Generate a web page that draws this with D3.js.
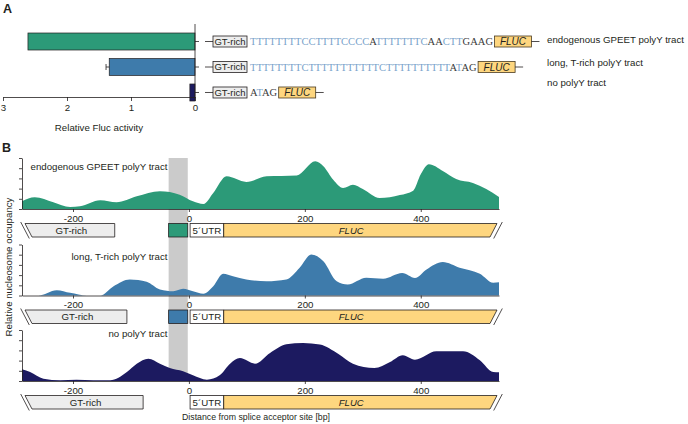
<!DOCTYPE html>
<html><head><meta charset="utf-8">
<script src="https://cdn.jsdelivr.net/npm/d3@7"></script>
<style>
body{margin:0;background:#fff;}
svg{display:block;font-family:"Liberation Sans",Arial,sans-serif;}
</style></head><body>
<svg id="c" width="688" height="424"></svg>
<script>
// ---------- data ----------
const constructs = ["endogenous GPEET polyY tract", "long, T-rich polyY tract", "no polyY tract"];
const flucActivity = [2.61, 1.34, 0.08];
const flucError = [0.0, 0.05, 0.0];
const activityTicks = [0, 1, 2, 3];
const sequences = ["TTTTTTTTCCTTTTCCCCATTTTTTTCAACTTGAAG", "TTTTTTTTCTTTTTTTTTTTCTTTTTTTTTTATAG", "ATAG"];

const bpTicks = [-200, 0, 200, 400];
const occTicks = [0, 1, 2, 3, 4, 5];
const gtRichEnd = [-128, -107, -79];
const polyYRegion = [-35, -2];
const utrRegion = [2, 60];
const bpDomain = [-288, 535];

const occGPEET = [[-288,0.75],[-266,1.15],[-234,0.66],[-205,0.2],[-188,0.26],[-153,0.85],[-125,0.66],[-90,1.25],[-50,1.74],[-16,1.4],[7,0.75],[25,0.49],[42,1.57],[65,3.2],[99,2.65],[134,3.2],[186,3.28],[218,4.67],[232,4.19],[249,2.87],[266,2.06],[283,2.38],[300,1.96],[329,1.08],[364,1.37],[387,1.8],[400,3.4],[414,4.38],[438,3.73],[461,2.94],[490,2.55],[513,1.96],[535,1.18]];
const occTrich = [[-288,0],[-260,0],[-228,0.52],[-205,0.26],[-176,0],[-153,0],[-130,0.91],[-102,1.57],[-73,1.34],[-50,0.59],[-27,0.42],[-10,0.66],[7,0.42],[25,0.17],[42,0.91],[59,2.13],[76,1.89],[99,1.57],[134,1.4],[168,1.57],[191,2.72],[211,4.02],[232,3.36],[255,1.4],[274,1.08],[306,1.74],[335,1.64],[368,2.2],[390,1.72],[410,2.55],[438,3.28],[467,2.72],[502,2.13],[525,1.25],[535,1.3]];
const occNone = [[-288,1.15],[-274,0.88],[-251,0.23],[-222,0.07],[-194,0.13],[-165,0.07],[-136,0.07],[-107,0.88],[-90,1.7],[-70,2.19],[-50,1.7],[-33,1.27],[-10,0.95],[7,0.56],[31,0.13],[53,0.56],[71,1.7],[88,2.25],[114,1.7],[140,2.75],[168,3.6],[197,3.73],[226,3.58],[258,2.65],[283,1.7],[320,1.27],[347,1.86],[369,2.52],[390,2.09],[427,2.91],[473,2.91],[502,2.03],[525,0.88],[535,0.85]];
const occupancy = [occGPEET, occTrich, occNone];

// ---------- style / layout ----------
const colors = ["#2c9a78", "#3e7bab", "#1c1a60"];
const ink = "#231f20";
const seqLight = "#7aa3cb", seqDark = "#3a3a3a";
const gtFill = "#ededed", flucFill = "#fed67f";
const svg = d3.select("#c");

// ================= Panel A =================
const xA = d3.scaleLinear().domain([0, 3]).range([195, 3]);
const yA = d3.scaleBand().domain(constructs).range([33, 101]).paddingInner(0.333).paddingOuter(0);
const gA = svg.append("g");
gA.append("text").text("A").attr("x", 3).attr("y", 13).attr("font-weight", "bold").attr("font-size", 12.5).attr("fill", ink);

gA.selectAll("rect.bar").data(constructs).join("rect")
  .attr("x", (d, i) => xA(flucActivity[i]))
  .attr("y", d => yA(d))
  .attr("width", (d, i) => xA(0) - xA(flucActivity[i]))
  .attr("height", yA.bandwidth())
  .attr("fill", (d, i) => colors[i])
  .attr("stroke", ink).attr("stroke-width", 0.7);

// error bars
constructs.forEach((c, i) => {
  if (flucError[i] <= 0) return;
  const cy = yA(c) + yA.bandwidth() / 2;
  gA.append("line").attr("x1", xA(flucActivity[i])).attr("x2", xA(flucActivity[i] + flucError[i]))
    .attr("y1", cy).attr("y2", cy).attr("stroke", ink).attr("stroke-width", 0.8);
  gA.append("line").attr("x1", xA(flucActivity[i] + flucError[i])).attr("x2", xA(flucActivity[i] + flucError[i]))
    .attr("y1", cy - 3).attr("y2", cy + 3).attr("stroke", ink).attr("stroke-width", 0.8);
});

const axA = gA.append("g").attr("transform", "translate(0,97)")
  .call(d3.axisBottom(xA).tickValues(activityTicks).tickSize(4).tickSizeOuter(0).tickFormat(d => String(d)));
const axAy = gA.append("g").attr("transform", "translate(195,0)")
  .call(d3.axisRight(yA).tickSize(4).tickSizeOuter(0).tickFormat(""));
axAy.select(".domain").attr("d", "M0,24V97");
[axA, axAy].forEach(a => {
  a.selectAll("path,line").attr("stroke", ink).attr("stroke-width", 0.8);
  a.selectAll("text").attr("fill", ink).attr("font-size", 9.7).attr("font-family", "Liberation Sans, Arial, sans-serif");
});
gA.append("text").text("Relative Fluc activity").attr("x", 99).attr("y", 131)
  .attr("text-anchor", "middle").attr("font-size", 9.7).attr("fill", ink);

// construct diagrams
constructs.forEach((c, i) => {
  const cy = yA(c) + yA.bandwidth() / 2;
  const g = gA.append("g");
  g.append("line").attr("x1", 205).attr("x2", 213).attr("y1", cy).attr("y2", cy).attr("stroke", ink).attr("stroke-width", 0.8);
  g.append("rect").attr("x", 213).attr("y", cy - 5.5).attr("width", 34).attr("height", 11)
    .attr("fill", gtFill).attr("stroke", ink).attr("stroke-width", 0.8);
  g.append("text").text("GT-rich").attr("x", 230).attr("y", cy).attr("dy", "0.36em")
    .attr("text-anchor", "middle").attr("font-size", 9.5).attr("fill", ink);
  const t = g.append("text").attr("x", 250).attr("y", cy).attr("dy", "0.36em")
    .attr("font-family", "Liberation Serif, Times New Roman, serif").attr("font-size", 10.5);
  t.selectAll("tspan").data(sequences[i].split("")).join("tspan").text(d => d)
    .attr("fill", d => (d === "T" || d === "C") ? seqLight : seqDark);
  const fx = 250 + t.node().getComputedTextLength() + 1.5;
  g.append("rect").attr("x", fx).attr("y", cy - 5.5).attr("width", 37).attr("height", 11)
    .attr("fill", flucFill).attr("stroke", "#4a3b22").attr("stroke-width", 0.8);
  g.append("text").text("FLUC").attr("x", fx + 18.5).attr("y", cy).attr("dy", "0.36em")
    .attr("text-anchor", "middle").attr("font-style", "italic").attr("font-size", 10).attr("fill", ink);
  g.append("line").attr("x1", fx + 37).attr("x2", fx + 45).attr("y1", cy).attr("y2", cy).attr("stroke", ink).attr("stroke-width", 0.8);
});
const labelY = [40, 63, 83];
gA.selectAll("text.lab").data(constructs).join("text").attr("class", "lab")
  .text(d => d).attr("x", 547).attr("y", (d, i) => labelY[i]).attr("dy", "0.35em")
  .attr("font-size", 9.7).attr("fill", ink);

// ================= Panel B =================
const gB = svg.append("g");
gB.append("text").text("B").attr("x", 2).attr("y", 152).attr("font-weight", "bold").attr("font-size", 12.5).attr("fill", ink);
const xB = d3.scaleLinear().domain(bpDomain).range([22, 499]);
const trackBase = [209, 295.5, 381];
const trackH = 51;
const titleY = [166.7, 256.7, 333.3];

// shaded polyY region
gB.append("rect").attr("x", xB(polyYRegion[0])).attr("width", xB(polyYRegion[1]) - xB(polyYRegion[0]))
  .attr("y", trackBase[0] - trackH).attr("height", trackBase[2] - trackBase[0] + trackH)
  .attr("fill", "#cbcbcb");

occupancy.forEach((data, i) => {
  const base = trackBase[i];
  const yB = d3.scaleLinear().domain([0, 5]).range([base, base - trackH]);
  const area = d3.area().x(d => xB(d[0])).y0(yB(0)).y1(d => yB(d[1])).curve(d3.curveMonotoneX);
  gB.append("path").datum(data).attr("d", area).attr("fill", colors[i]);

  const ax = gB.append("g").attr("transform", `translate(0,${base})`)
    .call(d3.axisBottom(xB).tickValues(bpTicks).tickSize(3).tickSizeOuter(0).tickFormat(d => String(d)));
  const ay = gB.append("g").attr("transform", `translate(${xB(bpDomain[0])},0)`)
    .call(d3.axisLeft(yB).tickValues(occTicks).tickSize(3).tickSizeOuter(0).tickFormat(""));
  [ax, ay].forEach(a => {
    a.selectAll("path,line").attr("stroke", ink).attr("stroke-width", 0.8);
    a.selectAll("text").attr("fill", ink).attr("font-size", 9.7).attr("font-family", "Liberation Sans, Arial, sans-serif");
  });

  gB.append("text").text(constructs[i]).attr("x", 167.5).attr("y", titleY[i]).attr("dy", "0.35em")
    .attr("text-anchor", "end").attr("font-size", 9.7).attr("fill", ink);

  // gene diagram
  const top = base + 14.5, bot = top + 13.5, mid = (top + bot) / 2;
  const x0 = xB(bpDomain[0]);
  gB.append("polygon").attr("points", [[x0 + 3, top], [xB(gtRichEnd[i]), top], [xB(gtRichEnd[i]), bot], [x0 + 10, bot]].map(p => p.join(",")).join(" "))
    .attr("fill", gtFill).attr("stroke", ink).attr("stroke-width", 0.8);
  gB.append("line").attr("x1", x0 - 1.3).attr("y1", top - 1.5).attr("x2", x0 + 7.3).attr("y2", bot + 1.5)
    .attr("stroke", ink).attr("stroke-width", 0.8);
  gB.append("text").text("GT-rich").attr("x", (x0 + 6 + xB(gtRichEnd[i])) / 2).attr("y", mid).attr("dy", "0.36em")
    .attr("text-anchor", "middle").attr("font-size", 9.7).attr("fill", ink);
  if (i < 2) {
    gB.append("rect").attr("x", xB(polyYRegion[0])).attr("width", xB(polyYRegion[1]) - xB(polyYRegion[0]))
      .attr("y", top).attr("height", bot - top).attr("fill", colors[i]).attr("stroke", ink).attr("stroke-width", 0.8);
  }
  gB.append("rect").attr("x", xB(utrRegion[0])).attr("width", xB(utrRegion[1]) - xB(utrRegion[0]))
    .attr("y", top).attr("height", bot - top).attr("fill", "#fff").attr("stroke", ink).attr("stroke-width", 0.8);
  gB.append("text").text("5\u00B4UTR").attr("x", (xB(utrRegion[0]) + xB(utrRegion[1])) / 2).attr("y", mid).attr("dy", "0.36em")
    .attr("text-anchor", "middle").attr("font-size", 9.7).attr("fill", ink);
  const xe = xB(bpDomain[1]);
  gB.append("polygon").attr("points", [[xB(utrRegion[1]), top], [xe - 2, top], [xe - 9, bot], [xB(utrRegion[1]), bot]].map(p => p.join(",")).join(" "))
    .attr("fill", flucFill).attr("stroke", ink).attr("stroke-width", 0.8);
  gB.append("line").attr("x1", xe + 3.3).attr("y1", top - 1.5).attr("x2", xe - 5.3).attr("y2", bot + 1.5)
    .attr("stroke", ink).attr("stroke-width", 0.8);
  gB.append("text").text("FLUC").attr("x", xB(280)).attr("y", mid).attr("dy", "0.36em")
    .attr("text-anchor", "middle").attr("font-style", "italic").attr("font-size", 9.5).attr("fill", ink);
});

gB.append("text").text("Relative nucleosome occupancy")
  .attr("transform", "translate(9,267) rotate(-90)").attr("dy", "0.35em")
  .attr("text-anchor", "middle").attr("font-size", 9.7).attr("fill", ink);
gB.append("text").text("Distance from splice acceptor site [bp]")
  .attr("x", 182).attr("y", 417).attr("dy", "0.35em")
  .attr("font-size", 9.5).attr("textLength", 148).attr("lengthAdjust", "spacingAndGlyphs").attr("fill", ink);
</script></body></html>
